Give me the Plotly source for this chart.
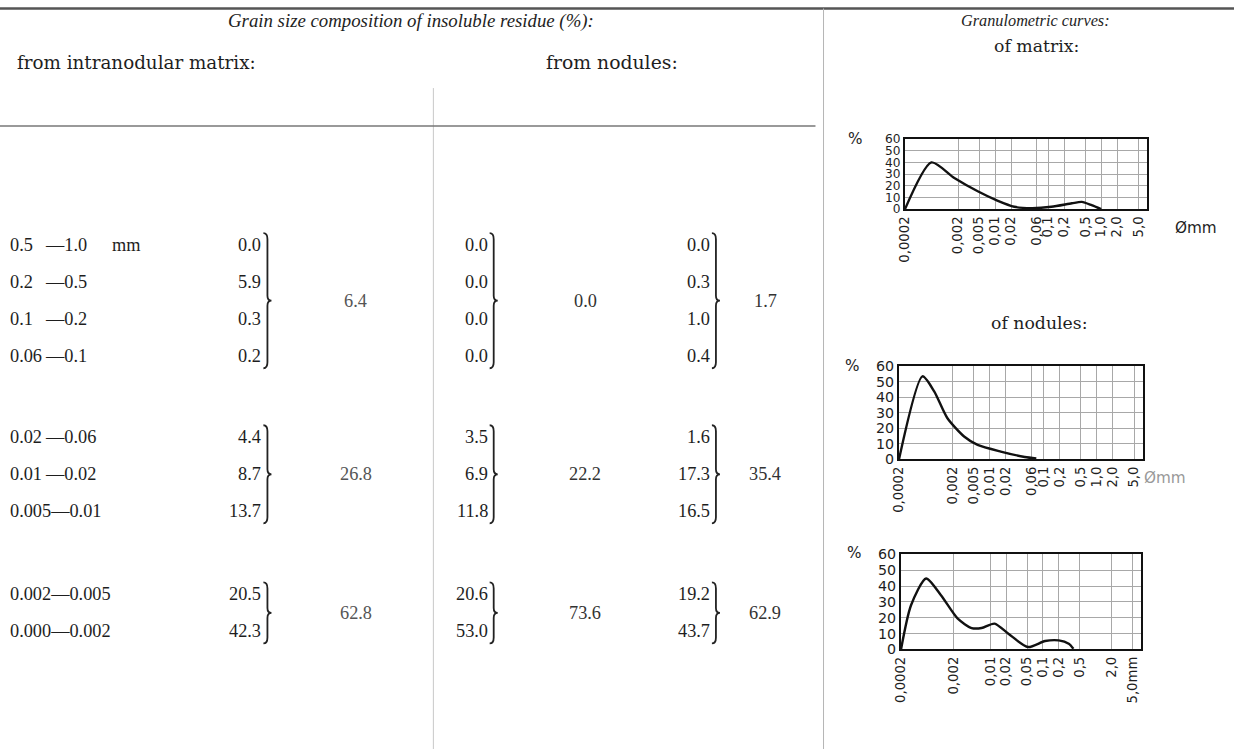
import plotly.graph_objects as go

W, H = 1234, 749
# calibration of the photographed page (observed: out = s*page + o)
SX, OX, SY, OY = 0.988, 9.0, 0.978, 8.0
def px(x): return ((x - OX) / SX) / W
def py(y): return 1 - ((y - OY) / SY) / H
def fs(s): return s / 0.983

# ---------------- data ----------------
size_lower = ["0.5", "0.2", "0.1", "0.06", "0.02", "0.01", "0.005", "0.002", "0.000"]
size_upper = ["1.0", "0.5", "0.2", "0.1", "0.06", "0.02", "0.01", "0.005", "0.002"]
matrix_pct = [0.0, 5.9, 0.3, 0.2, 4.4, 8.7, 13.7, 20.5, 42.3]
nodules_a_pct = [0.0, 0.0, 0.0, 0.0, 3.5, 6.9, 11.8, 20.6, 53.0]
nodules_b_pct = [0.0, 0.3, 1.0, 0.4, 1.6, 17.3, 16.5, 19.2, 43.7]
group_rows = [[0, 1, 2, 3], [4, 5, 6], [7, 8]]
matrix_sums = [6.4, 26.8, 62.8]
nodules_a_sums = [0.0, 22.2, 73.6]
nodules_b_sums = [1.7, 35.4, 62.9]

curve_matrix_mm = [0.0002, 0.00063, 0.0017, 0.0047, 0.011, 0.023, 0.049, 0.115, 0.28, 0.43, 0.66, 1.0]
curve_matrix_pct = [0, 40, 26.7, 15.3, 7.3, 2.0, 0.9, 2.0, 5.0, 6.2, 3.4, 0]
curve_nod_a_mm = [0.0002, 0.00055, 0.00091, 0.0016, 0.0033, 0.0059, 0.016, 0.045, 0.074]
curve_nod_a_pct = [0, 53.5, 43.8, 26.6, 14.7, 9.3, 5.0, 1.5, 0.6]
curve_nod_b_mm = [0.0002, 0.00031, 0.0006, 0.00115, 0.0024, 0.0044, 0.0068, 0.012, 0.022, 0.052, 0.11, 0.2, 0.31, 0.38]
curve_nod_b_pct = [0, 27.9, 44.8, 34.2, 19.4, 13.5, 13.5, 16.3, 9.9, 1.5, 5.3, 5.7, 3.6, 0.4]

ticks_ab = [0.0002, 0.002, 0.005, 0.01, 0.02, 0.06, 0.1, 0.2, 0.5, 1.0, 2.0, 5.0]
ticks_ab_text = ["0,0002", "0,002", "0,005", "0,01", "0,02", "0,06", "0,1", "0,2", "0,5", "1,0", "2,0", "5,0"]
ticks_c = [0.0002, 0.002, 0.01, 0.02, 0.05, 0.1, 0.2, 0.5, 2.0, 5.0]
ticks_c_text = ["0,0002", "0,002", "0,01", "0,02", "0,05", "0,1", "0,2", "0,5", "2,0", "5,0mm"]
pct_ticks = [0, 10, 20, 30, 40, 50, 60]

# ---------------- figure ----------------
fig = go.Figure()
SERIF = "Liberation Serif, DejaVu Serif, serif"
WSERIF = "DejaVu Serif, Liberation Serif, serif"
SANS = "DejaVu Sans, Liberation Sans, sans-serif"
INK = "#1e1e1e"

charts = [
    (curve_matrix_mm, curve_matrix_pct, ticks_ab, ticks_ab_text, (901, 1142), (139, 209), 12),
    (curve_nod_a_mm, curve_nod_a_pct, ticks_ab, ticks_ab_text, (895, 1138), (366, 459), 14),
    (curve_nod_b_mm, curve_nod_b_pct, ticks_c, ticks_c_text, (897, 1136), (554, 649), 14),
]
for i, (xs, ys, tv, tt, (x0, x1), (y0, y1), yfs) in enumerate(charts, start=1):
    sfx = "" if i == 1 else str(i)
    fig.add_trace(go.Scatter(x=xs, y=ys, mode="lines",
                             line=dict(color="#111", width=2.4, shape="spline", smoothing=0.7),
                             xaxis="x" + sfx, yaxis="y" + sfx, showlegend=False, hoverinfo="skip"))
    fig.update_layout(**{
        "xaxis" + sfx: dict(type="log", range=[-3.7, 0.87], domain=[px(x0), px(x1)],
                            anchor="y" + sfx, tickvals=tv, ticktext=tt, tickangle=-90,
                            showgrid=True, gridcolor="#a8a8a8", gridwidth=1,
                            showline=True, mirror=True, linecolor="#111", linewidth=2,
                            ticks="", tickfont=dict(family=SANS, size=fs(13), color=INK),
                            zeroline=False, fixedrange=True),
        "yaxis" + sfx: dict(range=[0, 60], domain=[py(y1), py(y0)], anchor="x" + sfx,
                            tickvals=pct_ticks, showgrid=True, gridcolor="#a8a8a8", gridwidth=1,
                            showline=True, mirror=True, linecolor="#111", linewidth=2,
                            ticks="", tickfont=dict(family=SANS, size=fs(yfs), color=INK),
                            zeroline=False, fixedrange=True),
    })

annotations = []
def txt(x, y, s, size=18, anchor="center", color=INK, italic=False, family=SERIF):
    annotations.append(dict(x=px(x), y=py(y), xref="paper", yref="paper", text=s,
                            showarrow=False, xanchor=anchor, yanchor="middle",
                            font=dict(family=family, size=fs(size), color=color,
                                      style="italic" if italic else "normal")))

# headers
txt(410, 21, "Grain size composition of insoluble residue (%):", size=18.5, italic=True)
txt(137, 62, "from intranodular matrix:", size=18, family=WSERIF)
txt(610, 62, "from nodules:", size=18.5, family=WSERIF)
txt(1031, 21, "Granulometric curves:", size=16, italic=True)
txt(1032, 46, "of matrix:", size=17, family=WSERIF)
txt(1034, 323, "of nodules:", size=17, family=WSERIF)

# table rows
group_top = [245, 437, 594]
row_gap = 37
row_y = []
for g, rows in enumerate(group_rows):
    for k, r in enumerate(rows):
        row_y.append(group_top[g] + k * row_gap)

for r in range(len(size_lower)):
    y = row_y[r]
    if len(size_lower[r]) >= 5:
        txt(9, y, size_lower[r] + "\u2014" + size_upper[r], anchor="left")
    else:
        txt(9, y, size_lower[r], anchor="left")
        txt(44, y, "\u2014" + size_upper[r], anchor="left")
    txt(263, y, f"{matrix_pct[r]:.1f}", anchor="right")
    txt(488, y, f"{nodules_a_pct[r]:.1f}", anchor="right")
    txt(709, y, f"{nodules_b_pct[r]:.1f}", anchor="right")
txt(110, row_y[0], "mm", anchor="left")

shapes = []
def brace(x, ya, yb):
    ym = (ya + yb) / 2
    pts = (f"M {px(x-3)},{py(ya)} Q {px(x+1)},{py(ya)} {px(x+1)},{py(ya+6)} "
           f"L {px(x+1)},{py(ym-5)} Q {px(x+1)},{py(ym)} {px(x+5)},{py(ym)} "
           f"Q {px(x+1)},{py(ym)} {px(x+1)},{py(ym+5)} "
           f"L {px(x+1)},{py(yb-6)} Q {px(x+1)},{py(yb)} {px(x-3)},{py(yb)}")
    shapes.append(dict(type="path", path=pts, xref="paper", yref="paper",
                       line=dict(color="#222", width=1.8)))

for g, rows in enumerate(group_rows):
    ya = row_y[rows[0]] - 12
    yb = row_y[rows[-1]] + 12
    ym = (row_y[rows[0]] + row_y[rows[-1]]) / 2
    for xb in (266, 491, 712):
        brace(xb, ya, yb)
    txt(355, ym, f"{matrix_sums[g]:.1f}", color="#555")
    txt(583, ym, f"{nodules_a_sums[g]:.1f}", color="#333")
    txt(762, ym, f"{nodules_b_sums[g]:.1f}", color="#333")

# chart decorations
for (xx, yy) in [(852, 139), (849, 366), (851, 553)]:
    txt(xx, yy, "%", size=15, family=SANS)
txt(1190, 228, "\u00d8mm", size=15, family=SANS)
txt(1160, 478, "\u00d8mm", size=15, family=SANS, color="#999")

# rules
def line(x0, y0, x1, y1, color, width):
    shapes.append(dict(type="line", xref="paper", yref="paper",
                       x0=px(x0), y0=py(y0), x1=px(x1), y1=py(y1),
                       line=dict(color=color, width=width)))
line(0, 8.5, 1234, 8.5, "#555", 2.5)
line(820, 8.5, 820, 749, "#b5b5b5", 1)
line(432, 88, 432, 749, "#c8c8c8", 1)
line(0, 126, 812, 126, "#777", 1.5)

fig.update_layout(width=W, height=H, margin=dict(l=0, r=0, t=0, b=0),
                  paper_bgcolor="white", plot_bgcolor="white",
                  annotations=annotations, shapes=shapes, showlegend=False)
fig.write_html("out.html", config={"displayModeBar": False, "staticPlot": True},
               post_script="document.body.style.margin='0px';document.body.style.padding='0px';"
                           "document.documentElement.style.overflow='hidden';"
                           "document.body.style.overflow='hidden';")
